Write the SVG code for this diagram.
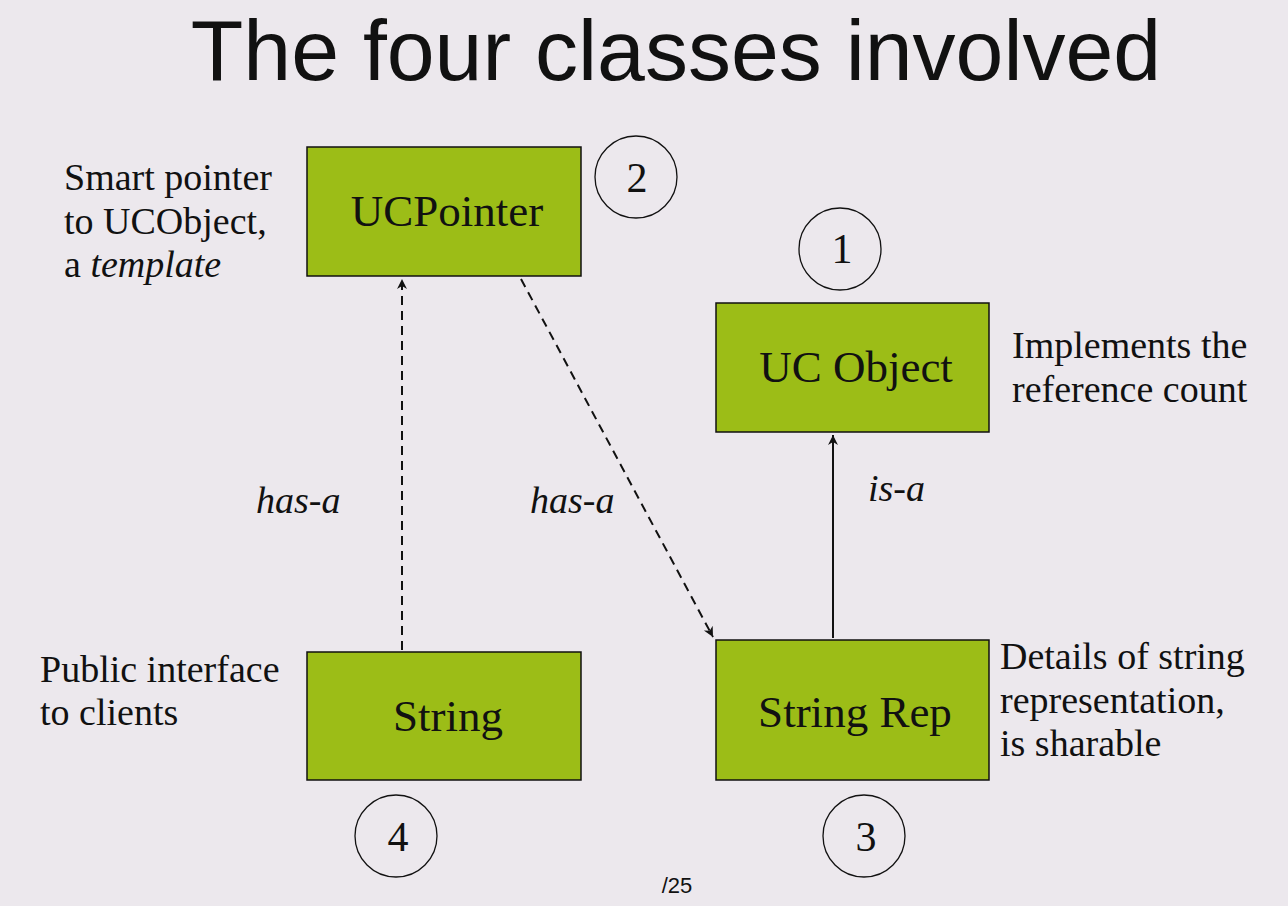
<svg xmlns="http://www.w3.org/2000/svg" width="1288" height="906" viewBox="0 0 1288 906">
<style>
.box{fill:#9cbd17;stroke:#111;stroke-width:1.5}
.lbl{font-family:"Liberation Serif",serif;font-size:45px;fill:#111;text-anchor:middle}
.txt{font-family:"Liberation Serif",serif;font-size:38px;fill:#111}
.num{font-family:"Liberation Serif",serif;font-size:42px;fill:#111;text-anchor:middle}
.circ{fill:none;stroke:#111;stroke-width:1.3}
.rel{font-family:"Liberation Serif",serif;font-size:38px;font-style:italic;fill:#111}
.dash{stroke:#111;stroke-width:2;fill:none;stroke-dasharray:9,6}
.solid{stroke:#111;stroke-width:2;fill:none}
</style>
<defs>
<marker id="ah" markerWidth="12" markerHeight="12" refX="10" refY="5" orient="auto" markerUnits="userSpaceOnUse">
<path d="M0,0 L10,5 L0,10 L3,5 Z" fill="#111"/>
</marker>
</defs>
<rect width="1288" height="906" fill="#ece8ed"/>
<text x="676" y="80" font-family="Liberation Sans,Arial,sans-serif" font-size="86" fill="#111" text-anchor="middle">The four classes involved</text>

<g id="connectors">
<line class="dash" x1="402" y1="650" x2="402" y2="279" marker-end="url(#ah)"/>
<line class="dash" x1="521" y1="279" x2="713" y2="637" marker-end="url(#ah)"/>
<line class="solid" x1="833" y1="638" x2="833" y2="435" marker-end="url(#ah)"/>
<text class="rel" x="256" y="513">has-a</text>
<text class="rel" x="530" y="513">has-a</text>
<text class="rel" x="868" y="501">is-a</text>
</g>

<g id="ucpointer">
<rect class="box" x="307" y="147" width="274" height="129"/>
<text class="lbl" x="447" y="226">UCPointer</text>
<circle class="circ" cx="636" cy="177" r="41"/>
<text class="num" x="637" y="192">2</text>
<text class="txt" x="64" y="190">Smart pointer</text>
<text class="txt" x="64" y="234">to UCObject,</text>
<text class="txt" x="64" y="277">a <tspan font-style="italic">template</tspan></text>
</g>

<g id="ucobject">
<rect class="box" x="716" y="303" width="273" height="129"/>
<text class="lbl" x="856" y="382">UC Object</text>
<circle class="circ" cx="840" cy="249" r="41"/>
<text class="num" x="842" y="263">1</text>
<text class="txt" x="1012" y="358">Implements the</text>
<text class="txt" x="1012" y="402">reference count</text>
</g>

<g id="string">
<rect class="box" x="307" y="652" width="274" height="128"/>
<text class="lbl" x="448" y="731">String</text>
<circle class="circ" cx="396" cy="836" r="41"/>
<text class="num" x="398" y="851">4</text>
<text class="txt" x="40" y="682">Public interface</text>
<text class="txt" x="40" y="725">to clients</text>
</g>

<g id="stringrep">
<rect class="box" x="716" y="640" width="273" height="140"/>
<text class="lbl" x="855" y="727">String Rep</text>
<circle class="circ" cx="864" cy="836" r="41"/>
<text class="num" x="866" y="851">3</text>
<text class="txt" x="1000" y="669">Details of string</text>
<text class="txt" x="1000" y="713">representation,</text>
<text class="txt" x="1000" y="756">is sharable</text>
</g>

<text x="677" y="893" font-family="Liberation Sans,Arial,sans-serif" font-size="22" fill="#111" text-anchor="middle">/25</text>
</svg>
